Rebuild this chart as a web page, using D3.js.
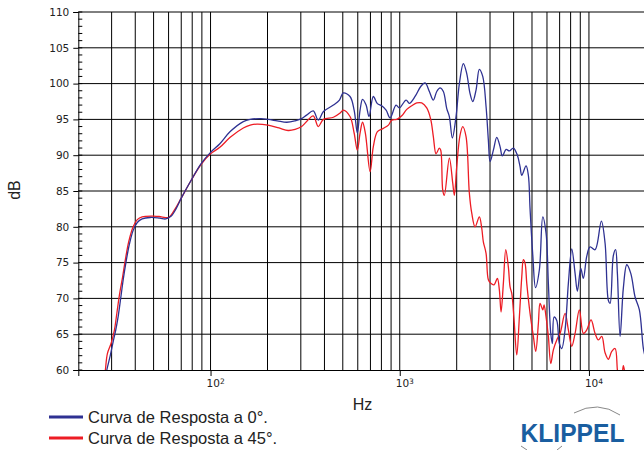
<!DOCTYPE html>
<html><head><meta charset="utf-8">
<script src="https://cdn.jsdelivr.net/npm/d3@7"></script>
<style>body{margin:0;background:#fff}svg{display:block}</style>
</head><body>
<svg id="c" width="644" height="450"></svg>
<script>
const yTicks = [60,65,70,75,80,85,90,95,100,105,110];
const xTickLabels = [{v:100, base:"10", exp:"2"},{v:1000, base:"10", exp:"3"},{v:10000, base:"10", exp:"4"}];
const seriesNames = ["Curva de Resposta a 0°.", "Curva de Resposta a 45°."];
const seriesColors = ["#2e3192", "#ed1c24"];

const curve0 = [[27.6,58],[28.3,60],[29.5,62],[30.6,64],[31.5,65.5],[32.5,67.5],[33.5,70],[34.5,72.5],[35.7,75],[37.2,77.5],[39,79.5],[41,80.6],[43.5,81.1],[48,81.3],[54,81.2],[58,81.1],[62,81.5],[66,82.6],[70,84],[79,86.5],[89,88.8],[100,90.4],[112,91.6],[127,93.3],[149,94.7],[162,95.0],[185,95.1],[201,95.0],[225,94.8],[253,94.6],[280,94.8],[303,95.1],[322,95.6],[349,96.2],[371,94.9],[395,96.1],[446,97.0],[480,97.7],[503,98.7],[546,98.2],[574,96.3],[597,93.1],[617,96.3],[636,97.8],[664,97.0],[688,95.4],[725,98.2],[762,97.2],[803,96.9],[847,96.3],[889,95.2],[956,97.0],[995,96.6],[1080,97.7],[1124,97.25],[1205,98.2],[1291,99.6],[1361,100.1],[1434,98.9],[1505,97.7],[1569,98.9],[1633,99.4],[1700,98.9],[1772,96.5],[1829,95.4],[1897,92.4],[1984,95.4],[2066,100.0],[2169,102.8],[2260,101.4],[2353,98.6],[2432,97.5],[2531,99.1],[2635,102.0],[2746,101.0],[2859,96.8],[2940,92.1],[3002,89.1],[3125,90.7],[3257,92.5],[3390,91.2],[3486,89.9],[3647,90.8],[3796,90.6],[3986,91.0],[4185,90.0],[4324,88.4],[4415,87.2],[4652,88.5],[4784,87.2],[4884,82.5],[5050,76.0],[5220,71.5],[5470,74.0],[5701,81.4],[5934,79.1],[6103,72.1],[6284,65.1],[6407,63.7],[6541,67.4],[6760,66.9],[6977,63.7],[7184,63.0],[7479,65.6],[7785,72.1],[8114,76.9],[8447,73.5],[8686,71.0],[9053,74.2],[9344,72.8],[9739,75.9],[10139,77.2],[10775,76.8],[11630,80.8],[12170,77.7],[12668,69.7],[12933,69.3],[13464,76.0],[13830,76.8],[14135,73.5],[14607,64.7],[15206,71.5],[15848,74.7],[16639,73.5],[17533,70.2],[18475,68.4],[19397,63.0],[20000,61.5]];

const curve45 = [[27.2,58],[27.8,60],[28.5,62.3],[29.8,63.7],[31,65.5],[32,68],[33,70.5],[34.3,73],[35.5,75.5],[37,78],[39,80],[41,81],[43.5,81.4],[50,81.5],[55,81.4],[60,81.3],[65,82.5],[70,84],[79,86.5],[89,88.7],[100,90.2],[112,91.1],[127,92.5],[149,93.8],[162,94.2],[176,94.35],[201,94.2],[230,93.8],[257,93.45],[280,93.6],[303,94.0],[322,94.7],[349,95.5],[371,94.0],[395,95.0],[446,95.3],[484,95.9],[503,96.3],[546,95.4],[574,93.1],[597,90.7],[617,93.1],[636,94.6],[658,93.1],[697,87.7],[725,91.2],[762,93.3],[819,93.75],[871,94.2],[907,94.9],[964,95.0],[1025,95.5],[1089,96.4],[1157,96.9],[1230,97.3],[1307,97.3],[1389,96.6],[1458,95.0],[1505,92.6],[1556,90.2],[1619,91.0],[1647,90.7],[1688,85.1],[1721,84.4],[1829,89.6],[1906,86.1],[1944,84.4],[2001,88.4],[2083,92.8],[2153,94.0],[2241,92.6],[2333,84.7],[2402,81.9],[2501,80.0],[2635,81.4],[2713,79.8],[2766,77.9],[2859,76.3],[2940,72.6],[3027,72.1],[3151,71.9],[3280,72.8],[3361,71.2],[3432,68.1],[3529,72.1],[3634,76.8],[3750,74.4],[3829,71.6],[3909,70.7],[4020,67.0],[4154,62.1],[4288,67.4],[4415,73.0],[4502,75.4],[4596,74.9],[4692,72.1],[4884,67.9],[5085,64.7],[5235,62.6],[5404,66.5],[5517,69.3],[5701,68.4],[5792,69.1],[5934,67.4],[6103,64.7],[6284,60.9],[6486,62.8],[6760,64.2],[7037,65.1],[7479,67.9],[7785,65.6],[8114,63.3],[8447,65.1],[8900,68.4],[9344,65.1],[9739,65.6],[10263,67.0],[10775,65.1],[11217,64.2],[11691,64.7],[12170,62.4],[12668,61.5],[13204,62.6],[13745,63.0],[14135,60.0],[14500,57.5],[15000,59.5],[15206,60.6],[15500,59.5],[16000,57]];

const svg = d3.select("#c");
const L = 78.3, R = 645.9, T = 12, B = 370;
const x = d3.scaleLog().domain([20, 20000]).range([L, R]);
const y = d3.scaleLinear().domain([60, 110]).range([B, T]);

// vertical grid
const vTicks = x.ticks().filter(v => v > 20);
svg.append("g").selectAll("line").data(vTicks).join("line")
  .attr("x1", d => x(d)).attr("x2", d => x(d)).attr("y1", T).attr("y2", B)
  .attr("stroke", "#000").attr("stroke-width", 1);
// horizontal grid
svg.append("g").selectAll("line").data(yTicks.filter(v => v > 60)).join("line")
  .attr("x1", L).attr("x2", 644).attr("y1", d => y(d)).attr("y2", d => y(d))
  .attr("stroke", "#000").attr("stroke-width", 1);

// left axis
const yAxis = d3.axisLeft(y).tickValues(yTicks).tickSize(5).tickPadding(4).tickFormat(d3.format("d"));
const ga = svg.append("g").attr("transform", `translate(${L},0)`).call(yAxis);
ga.select(".domain").attr("stroke", "#000");
ga.selectAll("text").attr("font-family", "DejaVu Sans, sans-serif").attr("font-size", 10.5).attr("fill", "#222");
// minor ticks inside
const minor = d3.range(60, 111, 1);
svg.append("g").selectAll("line").data(minor).join("line")
  .attr("x1", L).attr("x2", L + 4).attr("y1", d => y(d)).attr("y2", d => y(d))
  .attr("stroke", "#000").attr("stroke-width", 1);

// bottom axis
const xAxis = d3.axisBottom(x).tickValues(xTickLabels.map(d => d.v)).tickSize(6).tickFormat("");
const gb = svg.append("g").attr("transform", `translate(0,${B})`).call(xAxis);
gb.select(".domain").attr("stroke", "#000");
const lab = svg.append("g").selectAll("text").data(xTickLabels).join("text")
  .attr("x", d => x(d.v) - 4).attr("y", 387)
  .attr("font-family", "DejaVu Sans, sans-serif").attr("font-size", 10.5).attr("fill", "#222");
lab.append("tspan").text(d => d.base);
lab.append("tspan").attr("font-size", 7.5).attr("dy", -3.5).text(d => d.exp);

// axis titles
svg.append("text").attr("x", 362.5).attr("y", 410).attr("text-anchor", "middle")
  .attr("font-family", "Liberation Sans, Arial, sans-serif").attr("font-size", 16).attr("fill", "#222").text("Hz");
svg.append("text").attr("transform", "translate(20,190) rotate(-90)").attr("text-anchor", "middle")
  .attr("font-family", "Liberation Sans, Arial, sans-serif").attr("font-size", 16).attr("fill", "#222").text("dB");

// curves
svg.append("clipPath").attr("id", "clip").append("rect").attr("x", L).attr("y", T - 2).attr("width", R - L).attr("height", B - T + 2);
const line = d3.line().x(d => x(d[0])).y(d => y(d[1])).curve(d3.curveCatmullRom.alpha(0.5));
const gc = svg.append("g").attr("clip-path", "url(#clip)");
gc.append("path").datum(curve45).attr("d", line).attr("fill", "none").attr("stroke", seriesColors[1]).attr("stroke-width", 1.3);
gc.append("path").datum(curve0).attr("d", line).attr("fill", "none").attr("stroke", seriesColors[0]).attr("stroke-width", 1.3);

// legend
const lg = svg.append("g");
seriesNames.forEach((n, i) => {
  const yy = 417 + i * 21;
  lg.append("line").attr("x1", 49).attr("x2", 83).attr("y1", yy).attr("y2", yy)
    .attr("stroke", seriesColors[i]).attr("stroke-width", 3);
  lg.append("text").attr("x", 88).attr("y", yy + 6).attr("font-family", "Liberation Sans, Arial, sans-serif")
    .attr("font-size", 16.5).attr("fill", "#222").text(n);
});

// logo
svg.append("path").attr("d", "M574,413 Q598,400 620,415").attr("fill", "none").attr("stroke", "#888").attr("stroke-width", 1);
svg.append("path").attr("d", "M521,446 L527,450 M562,446 L557,450").attr("fill", "none").attr("stroke", "#888").attr("stroke-width", 1);
svg.append("text").attr("x", 520.5).attr("y", 441.7).attr("textLength", 104).attr("lengthAdjust", "spacingAndGlyphs")
  .attr("font-family", "Liberation Sans, Arial, sans-serif").attr("font-weight", "bold").attr("font-size", 25.5)
  .attr("fill", "#1a5ea0").text("KLIPPEL");
</script>
</body></html>
